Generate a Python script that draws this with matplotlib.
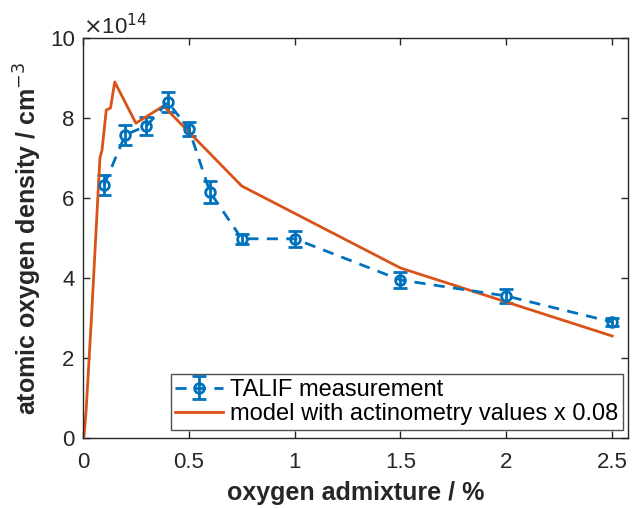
import matplotlib.pyplot as plt
import numpy as np

# measured TALIF data (x in %, y in 1e14 cm^-3)
admixture = [0.1, 0.2, 0.3, 0.4, 0.5, 0.6, 0.75, 1.0, 1.5, 2.0, 2.5]
density = [6.33, 7.58, 7.8, 8.4, 7.73, 6.15, 4.98, 4.98, 3.95, 3.55, 2.9]
density_err = [0.25, 0.25, 0.22, 0.25, 0.18, 0.27, 0.12, 0.2, 0.2, 0.18, 0.1]

# model curve
model_x = [0.005, 0.015, 0.04, 0.08, 0.09, 0.11, 0.13, 0.15, 0.25, 0.38, 0.75, 1.5, 2.5]
model_y = [0.05, 0.7, 3.0, 7.0, 7.2, 8.2, 8.25, 8.9, 7.87, 8.3, 6.3, 4.25, 2.55]

blue = "#0072BD"
orange = "#D95319"

plt.rcParams["font.family"] = ["Liberation Sans", "DejaVu Sans"]

fig = plt.figure(figsize=(6.32, 5.08), dpi=100)
ax = fig.add_axes([0.1313, 0.1378, 0.8624, 0.7874])

meas = ax.errorbar(admixture, np.array(density) * 1e14,
                   yerr=np.array(density_err) * 1e14,
                   color=blue, linestyle="--", linewidth=2, marker="o", markersize=7,
                   markerfacecolor="none", markeredgewidth=2, capsize=5, capthick=2,
                   elinewidth=2, dashes=(4, 3), label="TALIF measurement")
model, = ax.plot(model_x, np.array(model_y) * 1e14, color=orange, linewidth=2,
                 label="model with actinometry values x 0.08")

ax.set_xlim(0, 2.575)
ax.set_ylim(0, 10e14)
ax.set_xticks([0, 0.5, 1, 1.5, 2, 2.5])
ax.set_xticklabels(["0", "0.5", "1", "1.5", "2", "2.5"])
ax.set_yticks(np.arange(0, 11, 2) * 1e14)
ax.set_yticklabels(["0", "2", "4", "6", "8", "10"])
ax.tick_params(direction="in", top=True, right=True, labelsize=16, length=5,
               width=1, colors="#262626")
ax.tick_params(axis="x", pad=10)
ax.tick_params(axis="y", pad=6)
for s in ax.spines.values():
    s.set_color("#262626")
    s.set_linewidth(1)

ax.text(0.0, 0.998, r"$\times$10$^{14}$", transform=ax.transAxes, fontsize=16,
        color="#262626", va="bottom", ha="left")

ax.set_xlabel("oxygen admixture / %", fontsize=18, fontweight="bold",
              color="#262626", labelpad=6)
ax.set_ylabel("atomic oxygen density / cm$^{-3}$", fontsize=18,
              fontweight="bold", color="#262626")

leg = ax.legend([meas, model], ["TALIF measurement", "model with actinometry values x 0.08"],
                loc="lower right", bbox_to_anchor=(0.99, 0.02), fontsize=17,
                frameon=True, fancybox=False, edgecolor="#262626",
                handlelength=2.0, handletextpad=0.3, borderpad=0.2,
                labelspacing=0.1, borderaxespad=0)
leg.get_frame().set_linewidth(1)

fig.savefig("out.png", dpi=100)
